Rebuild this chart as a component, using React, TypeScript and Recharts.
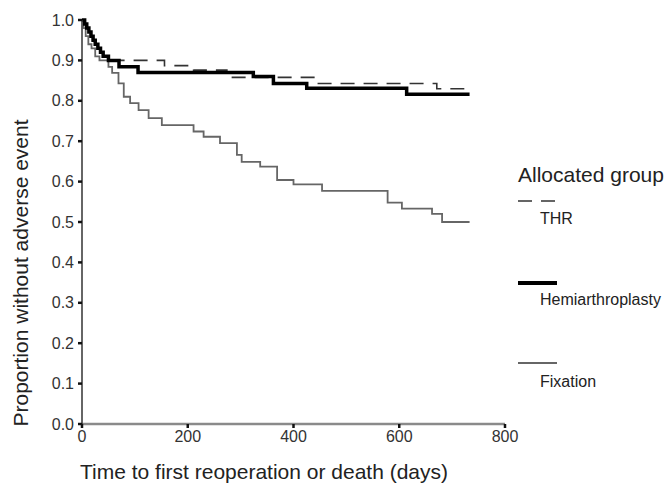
import React from 'react';
import { LineChart, Line, XAxis, YAxis } from 'recharts';

const xTicks = [0, 200, 400, 600, 800];
const yTicks = [0, 0.1, 0.2, 0.3, 0.4, 0.5, 0.6, 0.7, 0.8, 0.9, 1.0];

const thrTimes = [0, 4, 8, 12, 16, 20, 25, 30, 35, 40, 46, 156, 211, 274, 447, 671, 728];
const thrValues = [1.0, 0.99, 0.98, 0.97, 0.96, 0.95, 0.94, 0.93, 0.92, 0.91, 0.9, 0.887, 0.876, 0.858, 0.843, 0.83, 0.83];

const hemiTimes = [0, 5, 9, 13, 17, 21, 25, 30, 35, 40, 50, 70, 106, 324, 362, 425, 614, 733];
const hemiValues = [1.0, 0.99, 0.98, 0.97, 0.96, 0.95, 0.94, 0.93, 0.92, 0.91, 0.9, 0.884, 0.87, 0.86, 0.843, 0.831, 0.816, 0.816];

const fixTimes = [0, 3, 7, 12, 18, 25, 33, 50, 57, 69, 79, 91, 107, 126, 151, 211, 230, 261, 293, 302, 337, 369, 400, 454, 578, 605, 662, 681, 733];
const fixValues = [1.0, 0.98, 0.96, 0.94, 0.93, 0.91, 0.9, 0.884, 0.869, 0.843, 0.81, 0.794, 0.777, 0.757, 0.74, 0.724, 0.711, 0.695, 0.666, 0.649, 0.637, 0.604, 0.593, 0.577, 0.548, 0.533, 0.52, 0.5, 0.5];

const toRows = (ts: number[], vs: number[]) => ts.map((t, i) => ({ t, p: vs[i] }));
const thrData = toRows(thrTimes, thrValues);
const hemiData = toRows(hemiTimes, hemiValues);
const fixData = toRows(fixTimes, fixValues);

const FONT = '"Liberation Sans", Arial, Helvetica, sans-serif';

export default function App() {
  return (
    <div style={{ position: 'absolute', left: 0, top: 0, width: 666, height: 502, background: '#fff', fontFamily: FONT }}>
      <LineChart width={666} height={502} margin={{ top: 20, right: 161, bottom: 48, left: 0 }}>
        <XAxis
          type="number"
          dataKey="t"
          domain={[0, 800]}
          ticks={xTicks}
          allowDataOverflow
          height={30}
          axisLine={{ stroke: '#8a8a8a', strokeWidth: 2.5 }}
          tickLine={{ stroke: '#111', strokeWidth: 2.5 }}
          tickSize={4}
          tickMargin={3}
          tick={{ fill: '#333', fontSize: 16, fontFamily: FONT }}
        />
        <YAxis
          type="number"
          domain={[0, 1]}
          ticks={yTicks}
          width={82}
          axisLine={{ stroke: '#333', strokeWidth: 1.5 }}
          tickLine={{ stroke: '#111', strokeWidth: 2.5 }}
          tickSize={4}
          tickMargin={4}
          tickFormatter={(v: number) => v.toFixed(1)}
          tick={{ fill: '#333', fontSize: 16, fontFamily: FONT }}
        />
        <Line data={fixData} dataKey="p" type="stepAfter" stroke="#666" strokeWidth={1.8} dot={false} isAnimationActive={false} />
        <Line data={thrData} dataKey="p" type="stepAfter" stroke="#333" strokeWidth={1.6} strokeDasharray="14 9" dot={false} isAnimationActive={false} />
        <Line data={hemiData} dataKey="p" type="stepAfter" stroke="#000" strokeWidth={3.5} dot={false} isAnimationActive={false} />
      </LineChart>
      <svg width={666} height={502} style={{ position: 'absolute', left: 0, top: 0, pointerEvents: 'none' }}>
        <text x={20} y={273} transform="rotate(-90 20 273)" textAnchor="middle" dominantBaseline="central" fontSize={21} fill="#222" fontFamily={FONT}>
          Proportion without adverse event
        </text>
        <text x={80} y={479} fontSize={21} fill="#222" fontFamily={FONT}>
          Time to first reoperation or death (days)
        </text>
        <text x={518} y={182} fontSize={21} fill="#222" fontFamily={FONT}>Allocated group</text>
        <line x1={518} x2={557} y1={201} y2={201} stroke="#333" strokeWidth={1.6} strokeDasharray="14 9" />
        <text x={540} y={224} fontSize={16} fill="#222" fontFamily={FONT}>THR</text>
        <line x1={518} x2={557} y1={283} y2={283} stroke="#000" strokeWidth={4} />
        <text x={540} y={305} fontSize={16} fill="#222" fontFamily={FONT}>Hemiarthroplasty</text>
        <line x1={518} x2={557} y1={363} y2={363} stroke="#666" strokeWidth={2} />
        <text x={540} y={387} fontSize={16} fill="#222" fontFamily={FONT}>Fixation</text>
      </svg>
    </div>
  );
}
